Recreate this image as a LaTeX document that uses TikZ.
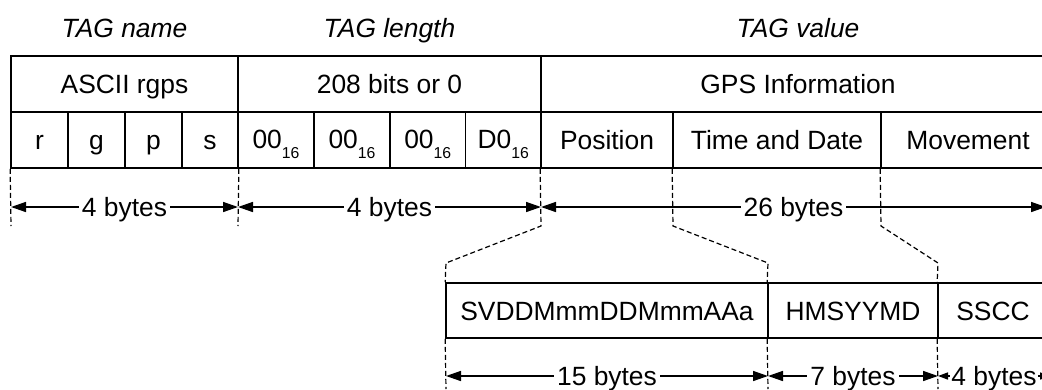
\documentclass[tikz,border=0pt]{standalone}
\usepackage{fontspec}
\setmainfont{Liberation Sans}
\usetikzlibrary{arrows.meta}
\begin{document}
\begin{tikzpicture}[x=1pt,y=-1pt,
  txt/.style={font=\fontsize{26.4}{30}\selectfont, text height=19pt, text depth=0pt},
  cell/.style={txt, draw, line width=1.7pt, inner sep=0pt, anchor=center},
  bytecell/.style={cell, text depth=3pt},
  title/.style={txt, font=\fontsize{26.4}{30}\selectfont\itshape},
  guide/.style={line width=1.2pt, dash pattern=on 5pt off 3pt},
  dim/.style={line width=1.5pt, {Triangle[length=15pt,width=10pt]}-{Triangle[length=15pt,width=10pt]}},
  smalldim/.style={line width=1.5pt, {Triangle[length=10pt,width=7pt]}-{Triangle[length=10pt,width=7pt]}},
  lbl/.style={txt, fill=white, inner xsep=3pt, inner ysep=2pt},
  slbl/.style={lbl, inner xsep=1.5pt}]
\newcommand{\sub}[1]{\raisebox{-10pt}{\fontsize{15.8}{18}\selectfont #1}}
\useasboundingbox (0,0) rectangle (1042,389);
\clip (0,0) rectangle (1042,389);

% titles
\node[title] (tname) at (124.5,28) {TAG name};
\node[title] (tlen) at (389.5,28) {TAG length};
\node[title] (tval) at (798,28) {TAG value};

% header row
\node[cell, minimum width=227pt, minimum height=56pt] (nameH) at (124.5,84) {ASCII rgps};
\node[cell, minimum width=303pt, minimum height=56pt] (lenH) at (389.5,84) {208 bits or 0};
\node[cell, minimum width=514pt, minimum height=56pt] (valH) at (798,84) {GPS Information};

% second row
\node[cell, minimum width=57pt, minimum height=56pt] (r) at (39.5,140) {r};
\node[cell, minimum width=57pt, minimum height=56pt] (g) at (96.5,140) {g};
\node[cell, minimum width=57pt, minimum height=56pt] (p) at (153.5,140) {p};
\node[cell, minimum width=56pt, minimum height=56pt] (s) at (210,140) {s};
\node[bytecell, minimum width=76pt, minimum height=56pt] (b1) at (276,140) {00\sub{16}};
\node[bytecell, minimum width=76pt, minimum height=56pt] (b2) at (352,140) {00\sub{16}};
\node[bytecell, minimum width=75.5pt, minimum height=56pt] (b3) at (427.75,140) {00\sub{16}};
\node[bytecell, minimum width=75.5pt, minimum height=56pt] (b4) at (503.25,140) {D0\sub{16}};
\node[cell, minimum width=132pt, minimum height=56pt] (pos) at (607,140) {Position};
\node[cell, minimum width=208pt, minimum height=56pt] (time) at (777,140) {Time and Date};
\node[cell, minimum width=174pt, minimum height=56pt] (mov) at (968,140) {Movement};

% lower table
\node[cell, minimum width=322pt, minimum height=55pt] (sv) at (607,310.5) {SVDDMmmDDMmmAAa};
\node[cell, minimum width=170pt, minimum height=55pt] (hm) at (853,310.5) {HMSYYMD};
\node[cell, minimum width=110pt, minimum height=55pt] (ss) at (993,310.5) {SSCC};

% guide coordinates
\coordinate (g0) at (11,226);
\coordinate (g1) at (238,226);
\coordinate (g2) at (541,226);
\coordinate (g3) at (673,226);
\coordinate (g4) at (881,226);
\coordinate (k2) at (446,263);
\coordinate (k3) at (768,263);
\coordinate (k4) at (938,263);
\coordinate (e2) at (446,389);
\coordinate (e3) at (768,389);
\coordinate (e4) at (938,389);

% guides
\draw[guide] (r.south west) -- (g0);
\draw[guide] (s.south east) -- (g1);
\draw[guide] (pos.south west) -- (g2) -- (k2) -- (sv.north west);
\draw[guide] (time.south west) -- (g3) -- (k3) -- (hm.north west);
\draw[guide] (mov.south west) -- (g4) -- (k4) -- (ss.north west);
\draw[guide] (sv.south west) -- (e2);
\draw[guide] (hm.south west) -- (e3);
\draw[guide] (ss.south west) -- (e4);

% dimension coordinates
\coordinate (a0) at (11,207);
\coordinate (a1) at (238,207);
\coordinate (a2) at (541,207);
\coordinate (a3) at (1046,207);
\coordinate (c0) at (446,376);
\coordinate (c1) at (768,376);
\coordinate (c2) at (938,376);
\coordinate (c3) at (1050,376);

% dimensions
\draw[dim] (a0) -- (a1) node[midway, lbl] (l1) {4 bytes};
\draw[dim] (a1) -- (a2) node[midway, lbl] (l2) {4 bytes};
\draw[dim] (a2) -- (a3) node[pos=0.5, lbl] (l3) {26 bytes};
\draw[dim] (c0) -- (c1) node[midway, lbl] (l4) {15 bytes};
\draw[dim] (c1) -- (c2) node[midway, lbl] (l5) {7 bytes};
\draw[smalldim] (c2) -- (c3) node[midway, slbl] (l6) {4 bytes};
\end{tikzpicture}
\end{document}
